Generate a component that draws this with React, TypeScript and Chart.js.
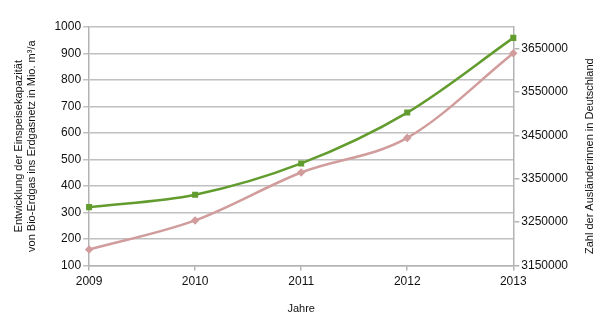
import React, { useEffect, useRef } from "react";
import { Chart, registerables } from "chart.js";

Chart.register(...registerables);

const years = ["2009", "2010", "2011", "2012", "2013"];
const biogasCapacity = [320, 367, 485, 677, 959];
const foreigners = [3186500, 3253800, 3364400, 3444200, 3639300];
const rightTicks = [3150000, 3250000, 3350000, 3450000, 3550000, 3650000];

const leftTitle = ["Entwicklung der Einspeisekapazität", "von Bio-Erdgas ins Erdgasnetz in Mio. m³/a"];
const rightTitle = "Zahl der Ausländerinnen in Deutschland";
const xTitle = "Jahre";

const FONT = "'Liberation Sans', Arial, sans-serif";

const rightTitlePlugin = {
  id: "rightTitle",
  afterDraw(chart: any) {
    const { ctx, chartArea, width } = chart;
    ctx.save();
    ctx.font = `11px ${FONT}`;
    ctx.fillStyle = "#111";
    ctx.textAlign = "center";
    ctx.textBaseline = "middle";
    ctx.translate(width - 11, (chartArea.top + chartArea.bottom) / 2 + 10);
    ctx.rotate(-Math.PI / 2);
    ctx.fillText(rightTitle, 0, 0);
    ctx.restore();
  },
};

export default function App() {
  const ref = useRef<HTMLCanvasElement>(null);
  useEffect(() => {
    if (!ref.current) return;
    Chart.defaults.font.family = FONT;
    const chart = new Chart(ref.current, {
      type: "line",
      data: {
        labels: years,
        datasets: [
          {
            label: "Bio-Erdgas",
            data: biogasCapacity,
            yAxisID: "y",
            borderColor: "#629c2e",
            backgroundColor: "#629c2e",
            borderWidth: 2.5,
            pointRadius: 2.5,
            pointStyle: "rect",
            cubicInterpolationMode: "monotone",
          },
          {
            label: "Ausländer",
            data: foreigners,
            yAxisID: "y1",
            borderColor: "#d19c9c",
            backgroundColor: "#d19c9c",
            borderWidth: 2.5,
            pointRadius: 2.5,
            pointStyle: "rectRot",
            cubicInterpolationMode: "monotone",
          },
        ],
      },
      plugins: [rightTitlePlugin],
      options: {
        animation: false,
        responsive: false,
        layout: { padding: { left: 4, right: 31, top: 19, bottom: 1 } },
        plugins: { legend: { display: false }, tooltip: { enabled: false } },
        scales: {
          x: {
            offset: false,
            grid: { display: true, drawOnChartArea: false, drawTicks: true, tickLength: 5, color: "#b3b3b3", lineWidth: 1.5 },
            border: { display: true, color: "#b3b3b3", width: 1.5 },
            ticks: { color: "#111", font: { size: 12 }, padding: 4, maxRotation: 0 },
            title: { display: true, text: xTitle, color: "#111", font: { size: 11 }, padding: { top: 10, bottom: 0 } },
          },
          y: {
            position: "left",
            min: 100,
            max: 1000,
            ticks: { stepSize: 100, color: "#111", font: { size: 12 }, padding: 2, callback: (v: any) => String(v) },
            grid: { color: "#c0c0c0", lineWidth: 1.5, tickLength: 6 },
            border: { display: true, color: "#b3b3b3", width: 1.5 },
            title: { display: true, text: leftTitle, color: "#111", font: { size: 11 }, padding: { top: 0, bottom: 14 } },
          },
          y1: {
            position: "right",
            min: 3150000,
            max: 3700000,
            afterBuildTicks: (scale: any) => {
              scale.ticks = rightTicks.map((v) => ({ value: v }));
            },
            ticks: { color: "#111", font: { size: 12 }, padding: 2, callback: (v: any) => String(v) },
            grid: { drawOnChartArea: false, color: "#b3b3b3", lineWidth: 1.5, tickLength: 6 },
            border: { display: true, color: "#b3b3b3", width: 1.5 },
          },
        },
      },
    });
    return () => chart.destroy();
  }, []);
  return <canvas ref={ref} width={593} height={309} style={{ display: "block" }} />;
}
